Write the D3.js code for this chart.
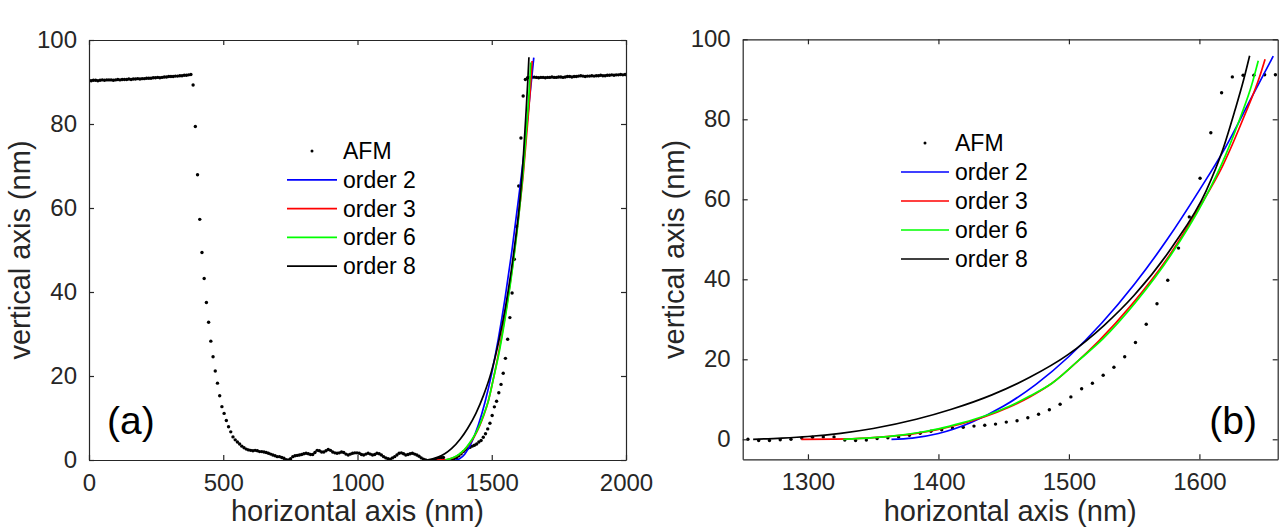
<!DOCTYPE html>
<html>
<head>
<meta charset="utf-8">
<script src="https://cdnjs.cloudflare.com/ajax/libs/d3/7.8.5/d3.min.js"></script>
<style>
  body { margin: 0; background: #fff; }
  svg { display: block; font-family: "Liberation Sans", Arial, Helvetica, sans-serif; }
  .axis path, .axis line { stroke: #262626; stroke-width: 1.2; }
  .axis text { fill: #262626; font-size: 24px; font-family: "Liberation Sans", Arial, sans-serif; }
  .label { fill: #262626; font-size: 29px; }
  .legend text { fill: #000; font-size: 23px; }
</style>
</head>
<body>
<svg id="chart" width="1288" height="529"></svg>
<script>
// AFM profile: one height per scan sample, samples spaced afmStep nm apart starting at 0
var afmStep = 8.25;
var afmHeight = [
  90.4, 90.3, 90.4, 90.4, 90.3, 90.4, 90.5, 90.4, 90.5, 90.5,
  90.5, 90.4, 90.5, 90.6, 90.5, 90.6, 90.6, 90.6, 90.7, 90.6,
  90.7, 90.7, 90.8, 90.7, 90.8, 90.8, 90.9, 90.9, 90.9, 91.0,
  91.0, 91.1, 91.0, 91.1, 91.2, 91.2, 91.3, 91.3, 91.3, 91.4,
  91.4, 91.5, 91.5, 91.6, 91.6, 91.7, 91.8,
  89.3, 79.4, 67.9, 57.3, 49.4, 43.2, 37.5, 32.8, 28.3, 24.6,
  21.2, 18.3, 15.3, 12.7, 11.1, 9.4, 7.9, 6.7, 5.5, 4.8,
  4.3, 3.8, 3.3, 2.9, 2.6,
  2.4, 2.3, 2.2, 2.3, 2.2, 2.0, 2.0, 1.9, 1.8, 1.6,
  1.4, 1.2, 1.0, 0.8, 0.8, 0.6, 0.4, 0.1, 0.0, 0.3,
  0.8, 1.0, 1.1, 1.2, 1.3, 1.5, 1.6, 1.5, 1.3, 1.3,
  1.8, 2.3, 2.2, 1.9, 1.9, 2.2, 2.5, 2.3, 1.9, 1.7,
  1.6, 1.7, 1.9, 1.8, 1.4, 1.2, 1.4, 1.6, 1.7, 1.7,
  1.6, 1.3, 1.2, 1.4, 1.6, 1.4, 1.2, 1.3, 1.6, 1.5,
  1.2, 0.8, 0.5, 0.3, 0.2, 0.5, 0.8, 1.2, 1.6, 1.7,
  1.5, 1.2, 1.3, 1.5, 1.6, 1.4, 1.2, 0.9, 0.5,
  0.2, 0.0, -0.3, -0.3, -0.1, 0.0, 0.3, 0.5, 0.6, 0.6,
  -0.2, -0.3, -0.2, 0.2, 0.4, 0.6, 1.0, 1.5, 2.0, 2.4,
  2.8, 3.0, 3.3, 3.5, 3.8, 4.3, 4.65, 5.4, 6.25, 7.4,
  8.75, 10.6, 12.65, 14.0, 16.0, 18.0, 20.65, 24.2, 28.75, 33.9,
  39.75, 47.8, 55.6, 65.25, 76.65, 86.65, 90.6, 91.0, 91.0, 91.15,
  91.15,
  91.1, 91.0, 91.1, 91.1, 91.0, 91.1, 91.1, 91.2, 91.1, 91.1,
  91.2, 91.2, 91.1, 91.2, 91.3, 91.3, 91.2, 91.3, 91.3, 91.4,
  91.5, 91.4, 91.3, 91.4, 91.4, 91.5, 91.4, 91.5, 91.5, 91.6,
  91.5, 91.5, 91.6, 91.6, 91.7, 91.6, 91.7, 91.7, 91.8, 91.7,
  91.8
];

// polynomial fits, points as [nm, nm]
var fitOrder2 = [[1364, 0], [1380, 0.3], [1400, 1.45], [1425, 4.2], [1450, 8.3], [1475, 13.8],
  [1500, 20.7], [1525, 29.0], [1550, 38.7], [1575, 49.8], [1600, 62.3], [1620, 73.0],
  [1640, 85.5], [1656.6, 95.8]];
var fitOrder3 = [[1295, 0], [1320, 0.05], [1345, 0.3], [1365, 0.8], [1383, 1.5], [1400, 2.5],
  [1418, 3.9], [1436, 5.7], [1454, 8.0], [1470, 10.6], [1487, 14.0], [1507, 19.6], [1523, 24.6],
  [1548, 33.6], [1575, 45.0], [1600, 58.0], [1618, 68.5], [1634, 80.5], [1646, 90.5], [1650.3, 95.0]];
var fitOrder6 = [[1327, 0], [1350, 0.4], [1370, 1.0], [1385, 1.7], [1400, 2.6], [1418, 4.1],
  [1436, 5.9], [1454, 8.2], [1470, 10.8], [1487, 14.0], [1507, 19.6], [1526, 25.1], [1551, 34.2],
  [1578, 46.0], [1603, 59.5], [1620, 71.0], [1632, 81.0], [1640, 88.5], [1645.1, 94.65]];
var fitOrder8 = [[1258, 0], [1280, 0.3], [1300, 0.7], [1325, 1.5], [1350, 2.7], [1383, 5.0],
  [1410, 7.5], [1441, 11.1], [1470, 15.5], [1499, 21.1], [1527, 28.5], [1550, 36.0], [1580, 48.5],
  [1605, 62.0], [1618, 72.5], [1627, 82.0], [1634, 90.0], [1638.5, 95.9]];

var legendLabels = ["AFM", "order 2", "order 3", "order 6", "order 8"];
var fitColors = ["#0000ff", "#ff0000", "#00ff00", "#000000"];
var fits = [fitOrder2, fitOrder3, fitOrder6, fitOrder8];

var xTicksA = [0, 500, 1000, 1500, 2000];
var xTicksB = [1300, 1400, 1500, 1600];
var yTicks = [0, 20, 40, 60, 80, 100];

var afm = afmHeight.map(function(h, i) { return [i * afmStep, h]; });

var svg = d3.select("#chart");

var panels = [
  { id: "a", left: 89, right: 626, top: 40, bottom: 460, xDomain: [0, 2000], yDomain: [0, 100],
    xTicks: xTicksA, tag: "(a)", tagX: 107, tagAnchor: "start",
    legend: { x1: 287, x2: 337, tx: 343, y0: 151, dy: 28.8 } },
  { id: "b", left: 742.7, right: 1277.7, top: 39.3, bottom: 459.3, xDomain: [1250, 1660], yDomain: [-5, 100],
    xTicks: xTicksB, tag: "(b)", tagX: 1257, tagAnchor: "end",
    legend: { x1: 901, x2: 949, tx: 955, y0: 143, dy: 29 } }
];

panels.forEach(function(p) {
  var x = d3.scaleLinear().domain(p.xDomain).range([p.left, p.right]);
  var y = d3.scaleLinear().domain(p.yDomain).range([p.bottom, p.top]);
  var g = svg.append("g").attr("class", "panel-" + p.id);

  g.append("clipPath").attr("id", "clip-" + p.id)
    .append("rect")
      .attr("x", p.left).attr("y", p.top)
      .attr("width", p.right - p.left).attr("height", p.bottom - p.top);

  var plot = g.append("g").attr("clip-path", "url(#clip-" + p.id + ")");

  plot.selectAll("circle.afm")
    .data(afm)
    .enter().append("circle")
      .attr("class", "afm")
      .attr("cx", function(d) { return x(d[0]); })
      .attr("cy", function(d) { return y(d[1]); })
      .attr("r", 1.7)
      .attr("fill", "#000");

  var line = d3.line()
    .x(function(d) { return x(d[0]); })
    .y(function(d) { return y(d[1]); })
    .curve(d3.curveMonotoneX);

  fits.forEach(function(f, i) {
    plot.append("path")
      .attr("d", line(f))
      .attr("fill", "none")
      .attr("stroke", fitColors[i])
      .attr("stroke-width", 1.7);
  });

  // box with inward ticks on all four sides
  var fmt = d3.format("d");
  g.append("g").attr("class", "axis")
    .attr("transform", "translate(0," + p.bottom + ")")
    .call(d3.axisBottom(x).tickValues(p.xTicks).tickFormat(fmt).tickSizeInner(-5).tickSizeOuter(0).tickPadding(14));
  g.append("g").attr("class", "axis")
    .attr("transform", "translate(0," + p.top + ")")
    .call(d3.axisTop(x).tickValues(p.xTicks).tickSizeInner(-5).tickSizeOuter(0).tickFormat(""));
  g.append("g").attr("class", "axis")
    .attr("transform", "translate(" + p.left + ",0)")
    .call(d3.axisLeft(y).tickValues(yTicks).tickFormat(fmt).tickSizeInner(-5).tickSizeOuter(0).tickPadding(12));
  g.append("g").attr("class", "axis")
    .attr("transform", "translate(" + p.right + ",0)")
    .call(d3.axisRight(y).tickValues(yTicks).tickSizeInner(-5).tickSizeOuter(0).tickFormat(""));

  g.append("text").attr("class", "label")
    .attr("x", (p.left + p.right) / 2).attr("y", 521)
    .attr("text-anchor", "middle")
    .text("horizontal axis (nm)");

  g.append("text").attr("class", "label")
    .attr("transform", "translate(" + (p.left - 59) + "," + ((p.top + p.bottom) / 2) + ") rotate(-90)")
    .attr("text-anchor", "middle")
    .text("vertical axis (nm)");

  g.append("text")
    .attr("x", p.tagX).attr("y", 434)
    .attr("text-anchor", p.tagAnchor)
    .attr("font-size", 39)
    .attr("fill", "#000")
    .text(p.tag);

  var lg = g.append("g").attr("class", "legend");
  legendLabels.forEach(function(name, i) {
    var ry = p.legend.y0 + i * p.legend.dy;
    if (i === 0) {
      lg.append("circle")
        .attr("cx", (p.legend.x1 + p.legend.x2) / 2).attr("cy", ry)
        .attr("r", 1.5).attr("fill", "#000");
    } else {
      lg.append("line")
        .attr("x1", p.legend.x1).attr("x2", p.legend.x2)
        .attr("y1", ry).attr("y2", ry)
        .attr("stroke", fitColors[i - 1]).attr("stroke-width", 1.7);
    }
    lg.append("text")
      .attr("x", p.legend.tx).attr("y", ry + 8)
      .text(name);
  });
});
</script>
</body>
</html>
